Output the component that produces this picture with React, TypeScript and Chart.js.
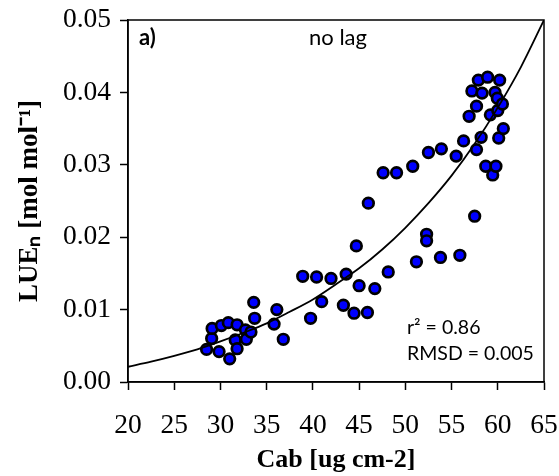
import React, { useEffect, useRef } from 'react';
import { Chart, registerables } from 'chart.js';

Chart.register(...registerables);

// Measured points: chlorophyll content (Cab) vs normalised light use efficiency
const cabValues = [
  28.5, 29.05, 29.1, 29.85, 30.1, 30.85, 31.0, 31.6, 31.8, 31.8, 32.7, 32.8, 33.3, 33.6, 33.7,
  35.8, 36.1, 36.8,
  38.9, 39.75, 40.4, 40.95, 41.96, 43.3, 43.6, 44.45, 44.7, 45.0, 45.9, 46.0, 46.7, 47.6, 48.15, 49.05,
  50.8, 51.2, 52.3, 52.3, 52.5, 53.8, 53.9, 55.5, 55.9, 56.3, 56.9, 57.5, 57.7, 57.2, 57.7, 57.9,
  58.2, 58.3, 58.9, 58.7, 59.2, 59.45, 59.8, 59.7, 59.95, 60.0, 60.2, 60.1, 60.5, 60.6,
];
const lueValues = [
  0.0045, 0.0060, 0.0074, 0.0042, 0.0078, 0.0082, 0.0032, 0.0058, 0.0079, 0.0046, 0.0072, 0.0059, 0.0069, 0.0110, 0.0088,
  0.0080, 0.0100, 0.0059,
  0.0146, 0.0088, 0.0145, 0.0111, 0.0143, 0.0106, 0.0149, 0.0095, 0.0188, 0.0133, 0.0096, 0.0247, 0.0129, 0.0289, 0.0152, 0.0289,
  0.0298, 0.0166, 0.0204, 0.0195, 0.0317, 0.0172, 0.0322, 0.0312, 0.0175, 0.0333, 0.0367, 0.0229, 0.0321, 0.0402, 0.0381, 0.0417,
  0.0338, 0.0399, 0.0421, 0.0298, 0.0369, 0.0286, 0.0298, 0.0400, 0.0392, 0.0375, 0.0417, 0.0337, 0.0384, 0.0350,
];

// Fitted curve
const fitCab = [20, 22.5, 25, 27.5, 30, 32.5, 35, 37.5, 40, 42.5, 45, 47.5, 50, 52.5, 55, 57.5, 60, 62.5, 65];
const fitLue = [0.0021, 0.0028, 0.0036, 0.0045, 0.0056, 0.0068, 0.0081, 0.0097, 0.0114, 0.0135, 0.0157, 0.0183, 0.0213, 0.0247, 0.0285, 0.0329, 0.0379, 0.0435, 0.05];

const xTicks = [20, 25, 30, 35, 40, 45, 50, 55, 60, 65];
const yTicks = [0, 0.01, 0.02, 0.03, 0.04, 0.05];

const xTitle = 'Cab [ug cm-2]';
const yTitle = 'LUEₙ [mol mol⁻¹]';
const panelLabel = 'a)';
const panelTitle = 'no lag';
const statsLines = ['r² = 0.86', 'RMSD = 0.005'];

const SERIF = '"Liberation Serif", "Times New Roman", serif';
const SANS = 'Lato, "Noto Sans", sans-serif';

const framePlugin = {
  id: 'frame',
  afterDraw(chart: any) {
    const { ctx, chartArea } = chart;
    const { left, top, right, bottom } = chartArea;
    ctx.save();
    ctx.strokeStyle = '#000';
    ctx.lineWidth = 1.5;
    ctx.strokeRect(left, top, right - left, bottom - top);
    ctx.restore();
  },
};

const annotationPlugin = {
  id: 'annotations',
  afterDraw(chart: any) {
    const { ctx, chartArea } = chart;
    ctx.save();
    ctx.fillStyle = '#000';
    ctx.textBaseline = 'middle';
    ctx.textAlign = 'left';
    ctx.font = `bold 22px ${SANS}`;
    ctx.fillText(panelLabel, chartArea.left + 11, chartArea.top + 18);
    ctx.font = `22px ${SANS}`;
    ctx.textAlign = 'center';
    ctx.fillText(panelTitle, chartArea.left + 210, chartArea.top + 18);
    ctx.textAlign = 'left';
    ctx.font = `19.5px ${SANS}`;
    ctx.fillText(statsLines[0], chartArea.left + 279, chartArea.top + 308);
    ctx.fillText(statsLines[1], chartArea.left + 279, chartArea.top + 334);
    ctx.restore();
  },
};

export default function App() {
  const canvasRef = useRef<HTMLCanvasElement | null>(null);

  useEffect(() => {
    if (!canvasRef.current) return;
    const points = cabValues.map((x, i) => ({ x, y: lueValues[i] }));
    const fit = fitCab.map((x, i) => ({ x, y: fitLue[i] }));
    const chart = new Chart(canvasRef.current, {
      type: 'scatter',
      data: {
        datasets: [
          {
            label: 'fit',
            data: fit,
            showLine: true,
            pointRadius: 0,
            borderColor: '#000',
            borderWidth: 1.8,
            cubicInterpolationMode: 'monotone',
            fill: false,
          } as any,
          {
            label: 'LUEn',
            data: points,
            pointRadius: 5.3,
            pointHoverRadius: 5.3,
            backgroundColor: '#0000ff',
            borderColor: '#000',
            borderWidth: 2.7,
          },
        ],
      },
      options: {
        responsive: false,
        animation: false,
        layout: { padding: { top: 20, right: 15, left: 0, bottom: 0 } },
        plugins: { legend: { display: false }, tooltip: { enabled: false } },
        scales: {
          x: {
            type: 'linear',
            min: 20,
            max: 65,
            afterBuildTicks: (s: any) => {
              s.ticks = xTicks.map((v) => ({ value: v }));
            },
            afterFit: (s: any) => {
              s.height = 94;
              s.paddingLeft = 0;
              s.paddingRight = 0;
            },
            ticks: {
              font: { family: SERIF, size: 27.5 },
              color: '#000',
              padding: 19,
              maxRotation: 0,
              autoSkip: false,
            },
            grid: { drawOnChartArea: false, drawTicks: true, tickLength: 8, tickWidth: 1.5, tickColor: '#000' },
            border: { display: true, color: '#000', width: 1.5 },
            title: {
              display: true,
              text: xTitle,
              font: { family: SERIF, size: 26, weight: 'bold' },
              color: '#000',
              padding: { top: 0, bottom: 0 },
            },
          },
          y: {
            type: 'linear',
            min: 0,
            max: 0.05,
            afterBuildTicks: (s: any) => {
              s.ticks = yTicks.map((v) => ({ value: v }));
            },
            afterFit: (s: any) => {
              s.width = 128;
              s.paddingTop = 0;
              s.paddingBottom = 0;
            },
            ticks: {
              font: { family: SERIF, size: 27.5 },
              color: '#000',
              padding: 9,
              callback: (v: any) => Number(v).toFixed(2),
            },
            grid: { drawOnChartArea: false, drawTicks: true, tickLength: 8, tickWidth: 1.5, tickColor: '#000' },
            border: { display: true, color: '#000', width: 1.5 },
            title: {
              display: true,
              text: yTitle,
              font: { family: SERIF, size: 27, weight: 'bold' },
              color: '#000',
              padding: { top: 14, bottom: 0 },
            },
          },
        },
      },
      plugins: [framePlugin, annotationPlugin],
    });
    return () => chart.destroy();
  }, []);

  return (
    <div style={{ position: 'fixed', left: 0, top: 0, width: 559, height: 476, background: '#fff' }}>
      <canvas ref={canvasRef} width={559} height={476} />
    </div>
  );
}
